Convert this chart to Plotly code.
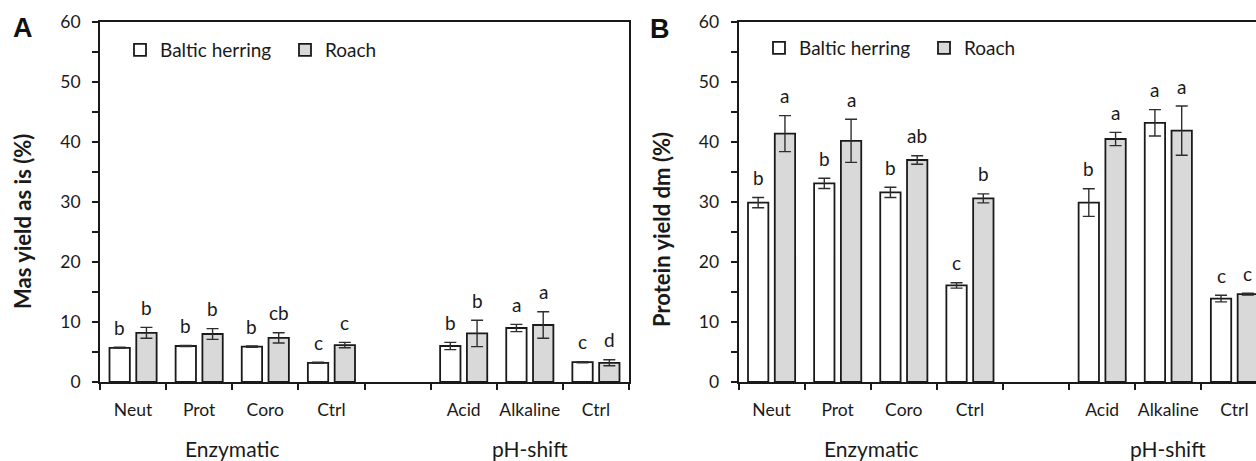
import plotly.graph_objects as go

# ---------------- data ----------------
methods = ["Enzymatic", "Enzymatic", "Enzymatic", "Enzymatic", "pH-shift", "pH-shift", "pH-shift"]
treatments = ["Neut", "Prot", "Coro", "Ctrl", "Acid", "Alkaline", "Ctrl"]
series_names = ["Baltic herring", "Roach"]
y_ticks = [0, 10, 20, 30, 40, 50, 60]

A_herring = [5.7, 6.0, 5.9, 3.2, 6.0, 9.0, 3.3]
A_herring_err = [0.1, 0.1, 0.1, 0.1, 0.6, 0.6, 0.1]
A_roach = [8.2, 8.0, 7.35, 6.15, 8.1, 9.5, 3.2]
A_roach_err = [0.9, 0.9, 0.85, 0.45, 2.2, 2.2, 0.5]
A_herring_sig = ["b", "b", "b", "c", "b", "a", "c"]
A_roach_sig = ["b", "b", "cb", "c", "b", "a", "d"]

B_herring = [29.9, 33.1, 31.6, 16.1, 29.9, 43.2, 13.9]
B_herring_err = [0.85, 0.85, 0.85, 0.45, 2.3, 2.2, 0.55]
B_roach = [41.4, 40.2, 37.0, 30.6, 40.5, 41.9, 14.65]
B_roach_err = [3.0, 3.6, 0.7, 0.75, 1.1, 4.1, 0.15]
B_herring_sig = ["b", "b", "b", "c", "b", "a", "c"]
B_roach_sig = ["a", "a", "ab", "b", "a", "a", "c"]

# ---------------- positions (category index with one empty slot between methods) ----------------
xpos = []
k = 0
for i, m in enumerate(methods):
    if i > 0 and m != methods[i - 1]:
        k += 1
    xpos.append(k)
    k += 1
n_slots = k

W, H = 1256, 461
FONT = "Lato"
INK = "#1a1a1a"
FILLS = ["#ffffff", "#d9d9d9"]
BARGAP = 0.19
BARGROUPGAP = 0.24
off = (1 - BARGAP) / 4.0

fig = go.Figure()

panels = [
    ("x", "y", "legend", [A_herring, A_roach], [A_herring_err, A_roach_err], [A_herring_sig, A_roach_sig]),
    ("x2", "y2", "legend2", [B_herring, B_roach], [B_herring_err, B_roach_err], [B_herring_sig, B_roach_sig]),
]

annotations = []
for xa, ya, lg, vals, errs, sigs in panels:
    for s in range(2):
        fig.add_trace(go.Bar(
            x=xpos, y=vals[s], name=series_names[s],
            xaxis=xa, yaxis=ya, legend=lg,
            marker=dict(color=FILLS[s], line=dict(color=INK, width=1.8)),
            error_y=dict(type="data", array=errs[s], visible=True,
                         color="#2e2e2e", thickness=1.4, width=6),
        ))
        for xi, v, e, t in zip(xpos, vals[s], errs[s], sigs[s]):
            annotations.append(dict(
                x=xi + (-off if s == 0 else off), y=v + e, xref=xa, yref=ya,
                text=t, showarrow=False, yanchor="middle", yshift=20,
                font=dict(family=FONT, size=19, color=INK),
            ))
    # group labels
    for m in dict.fromkeys(methods):
        idx = [xpos[i] for i in range(len(methods)) if methods[i] == m]
        annotations.append(dict(
            x=(min(idx) + max(idx)) / 2.0, y=1 - 448 / H, xref=xa, yref="paper",
            text=m, showarrow=False, yanchor="middle",
            font=dict(family=FONT, size=21, color=INK),
        ))

# panel letters and y titles
annotations += [
    dict(x=22.5 / W, y=1 - 27.5 / H, xref="paper", yref="paper", text="<b>A</b>",
         showarrow=False, xanchor="center", yanchor="middle",
         font=dict(family="Liberation Sans", size=27, color="#111")),
    dict(x=660 / W, y=1 - 28.5 / H, xref="paper", yref="paper", text="<b>B</b>",
         showarrow=False, xanchor="center", yanchor="middle",
         font=dict(family="Liberation Sans", size=27, color="#111")),
    dict(x=22 / W, y=1 - 222 / H, xref="paper", yref="paper", text="<b>Mas yield as is (%)</b>",
         showarrow=False, textangle=-90, xanchor="center", yanchor="middle",
         font=dict(family=FONT, size=22, color=INK)),
    dict(x=661 / W, y=1 - 230 / H, xref="paper", yref="paper", text="<b>Protein yield dm (%)</b>",
         showarrow=False, textangle=-90, xanchor="center", yanchor="middle",
         font=dict(family=FONT, size=22, color=INK)),
]

ydom = [1 - 382 / H, 1 - 22 / H]
xdomA = [100 / W, 629 / W]
xdomB = [738.5 / W, 1.0]
slotpx = (629 - 100) / n_slots
rangeB_hi = (W - 738.5) / slotpx - 0.5

boundaries = [b - 0.5 for b in range(n_slots + 1)]


def xaxis_cfg(dom, rng, anchor):
    return dict(
        domain=dom, range=rng, anchor=anchor, automargin=False,
        tickmode="array", tickvals=xpos, ticktext=treatments, ticks="",
        ticklabelstandoff=11,
        tickfont=dict(family=FONT, size=17.5, color=INK),
        showline=True, linecolor=INK, linewidth=1.8, mirror=True,
        showgrid=False, zeroline=False, fixedrange=True,
        minor=dict(tickvals=boundaries, ticks="outside", ticklen=6, tickwidth=1.6,
                   tickcolor=INK, showgrid=False),
    )


def yaxis_cfg(dom, anchor, mirror):
    return dict(
        domain=dom, range=[0, 60], anchor=anchor, automargin=False,
        tickmode="array", tickvals=y_ticks, ticks="outside", ticklen=6, tickwidth=1.6,
        tickcolor=INK, ticklabelstandoff=8,
        tickfont=dict(family=FONT, size=17.5, color=INK),
        showline=True, linecolor=INK, linewidth=1.8, mirror=mirror,
        showgrid=False, zeroline=False, fixedrange=True,
        minor=dict(dtick=5, tick0=0, ticks="outside", ticklen=6, tickwidth=1.6,
                   tickcolor=INK, showgrid=False),
    )


legend_common = dict(orientation="h", xanchor="left", yanchor="middle",
                     font=dict(family=FONT, size=19, color=INK),
                     bgcolor="rgba(0,0,0,0)", itemwidth=30, traceorder="normal",
                     entrywidth=120, entrywidthmode="pixels",
                     itemclick=False, itemdoubleclick=False)

fig.update_layout(
    width=W, height=H, margin=dict(l=0, r=0, t=0, b=0, pad=0, autoexpand=False),
    paper_bgcolor="white", plot_bgcolor="white",
    barmode="group", bargap=BARGAP, bargroupgap=BARGROUPGAP,
    xaxis=xaxis_cfg(xdomA, [-0.5, n_slots - 0.5], "y"),
    yaxis=yaxis_cfg(ydom, "x", True),
    xaxis2=xaxis_cfg(xdomB, [-0.5, rangeB_hi], "y2"),
    yaxis2=yaxis_cfg(ydom, "x2", False),
    legend=dict(x=120 / W, y=1 - 50 / H, **legend_common),
    legend2=dict(x=759 / W, y=1 - 48 / H, **legend_common),
    annotations=annotations,
    showlegend=True,
)

fig.write_html("out.html")
